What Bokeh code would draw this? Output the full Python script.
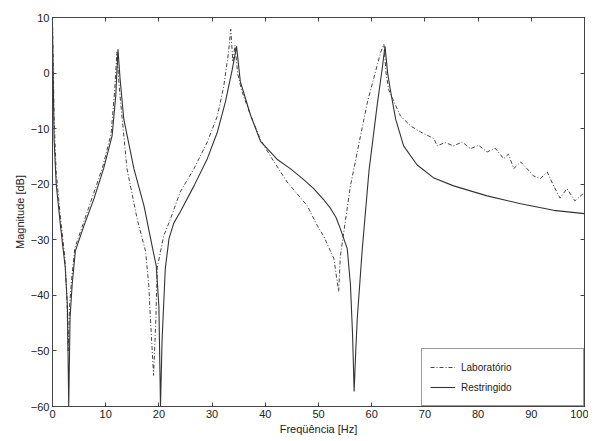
from bokeh.plotting import figure
from bokeh.models import Range1d, LinearAxis, FixedTicker
from bokeh.embed import file_html
from bokeh.resources import INLINE

# Restringido (solid)
f_restr = [0, 0.3, 0.7, 1.5, 2.4, 2.8, 3.05, 3.3, 3.7, 4.3, 5.9, 7.8, 9.6, 11.2, 11.9, 12.3,
           12.7, 13.4, 15.3, 17.2, 18.7, 19.5, 20.0, 20.3, 20.6, 21.2, 21.9, 22.8, 24.0,
           26.6, 29.1, 31.0, 32.5, 33.8, 34.6, 35.3, 37.2, 39.1, 42.2, 44.7, 47.0, 49.1,
           51.0, 52.3, 53.3, 54.1, 55.4, 56.0, 56.4, 56.7, 57.0, 57.3, 58.2, 59.5, 61.0,
           62.0, 62.5, 63.0, 63.5, 64.5, 66.0, 68.5, 71.7, 75.4, 81.7, 88.0, 94.2, 100.0]
m_restr = [8, -12, -20, -27.5, -35, -42, -60, -44, -38, -32, -27.5, -22.6, -17.2, -11.3, -4, 4.3,
           -1, -8.3, -17.2, -23.9, -31, -34.7, -42, -60, -48, -35.2, -29.8, -27, -25,
           -20.3, -15.4, -10.6, -5.2, 0.7, 4.8, -1.5, -7.5, -12.3, -15.5, -17.2, -19.0, -20.8,
           -22.8, -24.4, -26, -28, -31.6, -38, -47, -57.3, -50, -44, -32, -17.5, -6,
           1, 4.8, 0, -3, -8.3, -13.1, -16.5, -18.9, -20.3, -22.1, -23.5, -24.7, -25.3]

# Laboratório (dash-dot)
f_lab = [0, 0.3, 0.7, 1.5, 2.3, 2.7, 2.95, 3.2, 3.6, 4.2, 5.8, 7.6, 9.4, 11.0, 11.7, 12.1,
         12.5, 12.8, 14.0, 15.9, 17.5, 18.1, 18.4, 19.0, 19.4, 19.7, 20.9, 22.2, 24.0,
         26.6, 29.1, 31.0, 32.2, 33.1, 33.5, 33.9, 34.3, 34.8, 35.5, 37.0, 39.1, 41.0,
         44.1, 47.9, 49.8, 51.0, 52.9, 53.5, 53.8, 54.1, 56.0, 57.9, 59.2, 61.7, 62.3,
         62.7, 63.2, 64.2, 65.4, 67.3, 69.2, 71.7, 72.3, 73.8, 75.4, 77.0, 78.6, 80.1,
         81.7, 83.2, 84.8, 85.7, 86.7, 88.0, 89.2, 90.4, 91.7, 93.0, 94.2, 95.4, 96.7,
         98.2, 100.0]
m_lab = [10, -8, -18, -26, -33, -40, -50, -42, -37, -31.5, -27, -22, -17, -11, -3, 3.8,
         -2, -5.2, -17.2, -26.2, -32.1, -38.2, -44, -54.4, -45, -35, -29.3, -26.2, -21.4,
         -17.2, -12.4, -7.7, -2.3, 3.8, 7.9, 2, 5, 0, -3, -7, -12, -15,
         -19.6, -23.9, -27.5, -29.4, -33.4, -37.5, -39.3, -33, -20.3, -11.3, -5.2, 3.8, 5.2,
         0, -3, -5.2, -7.7, -9.5, -10.6, -11.8, -13.1, -12.5, -13.1, -12.4, -13.6, -13.0,
         -14.2, -13.5, -15.4, -14.6, -17.2, -16.0, -17.2, -18.5, -19, -17.8, -20.3, -22.5, -20.8,
         -23, -21.5]

x_ticks = [0, 10, 20, 30, 40, 50, 60, 70, 80, 90, 100]
y_ticks = [-60, -50, -40, -30, -20, -10, 0, 10]

FONT = "Liberation Sans"
AX = "#444444"

p = figure(width=588, height=437, x_range=Range1d(0, 100), y_range=Range1d(-60, 10),
           output_backend="svg", toolbar_location=None,
           min_border_left=52, min_border_right=4, min_border_top=17, min_border_bottom=28)
p.xgrid.visible = False
p.ygrid.visible = False
p.outline_line_color = AX
p.background_fill_color = "white"

p.line(f_lab, m_lab, line_color="#444444", line_width=1, line_dash="4 2 1 2",
       legend_label="Laboratório")
p.line(f_restr, m_restr, line_color="#333333", line_width=1.1, legend_label="Restringido")

def style(ax, ticks, labels=True):
    ax.ticker = FixedTicker(ticks=ticks)
    ax.minor_tick_line_color = None
    ax.major_tick_in = 4
    ax.major_tick_out = 0
    ax.major_tick_line_color = AX
    ax.axis_line_color = AX
    ax.major_label_text_font = FONT
    ax.major_label_text_color = "#222222"
    if labels:
        ax.major_label_text_font_size = "11px"
        ax.major_label_standoff = 3
    else:
        ax.major_label_text_font_size = "1px"
        ax.major_label_text_color = None
        ax.major_label_text_alpha = 0
        ax.major_label_standoff = 0
    ax.axis_label_text_font = FONT
    ax.axis_label_text_font_size = "11px"
    ax.axis_label_text_font_style = "normal"
    ax.axis_label_text_color = "#222222"
    ax.axis_label_standoff = 2

style(p.xaxis[0], x_ticks)
style(p.yaxis[0], y_ticks)
p.xaxis[0].axis_label = "Freqüência [Hz]"
p.yaxis[0].axis_label = "Magnitude [dB]"

top = LinearAxis()
style(top, x_ticks, labels=False)
p.add_layout(top, "above")
right = LinearAxis()
style(right, y_ticks, labels=False)
p.add_layout(right, "right")

lg = p.legend[0]
lg.location = "bottom_right"
lg.margin = 0
lg.padding = 8
lg.spacing = 0
lg.glyph_width = 25
lg.label_standoff = 6
lg.label_width = 114
lg.label_height = 20
lg.label_text_font = FONT
lg.label_text_font_size = "10px"
lg.label_text_color = "#222222"
lg.border_line_color = "#333333"
lg.border_line_width = 1
lg.background_fill_alpha = 1

open("out.html", "w").write(file_html(p, INLINE))
